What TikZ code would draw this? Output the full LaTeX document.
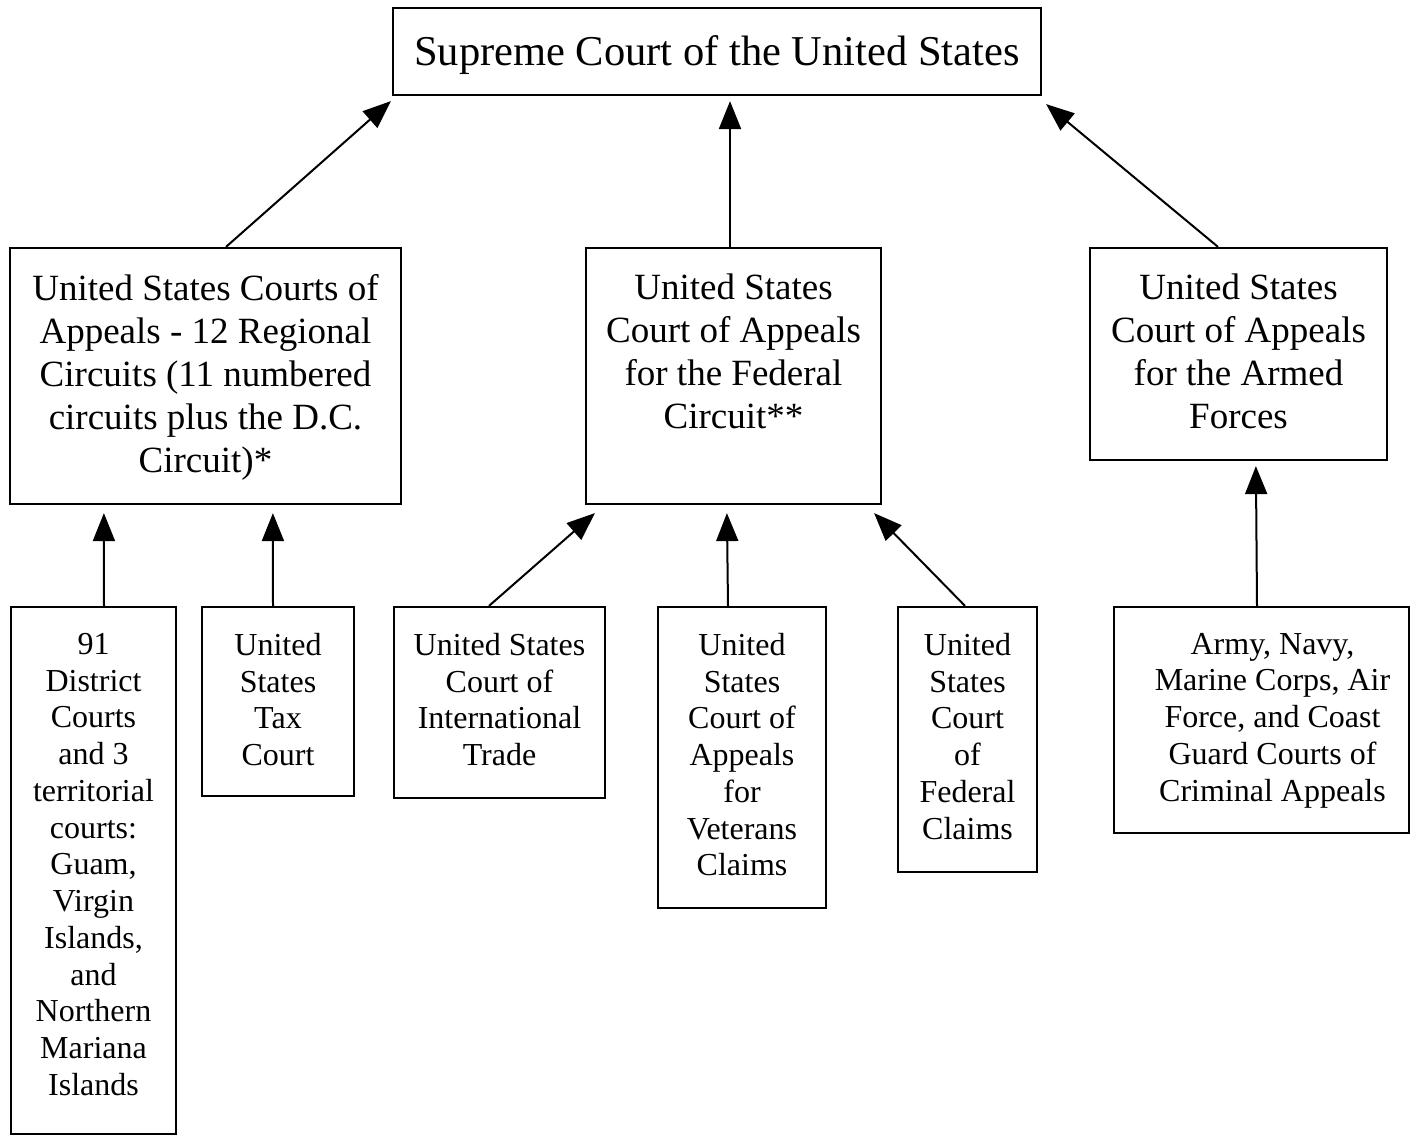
\documentclass[tikz,border=0pt]{standalone}
\usepackage{fontspec}
\setmainfont{Liberation Serif}
\usetikzlibrary{arrows.meta}
\begin{document}
\begin{tikzpicture}[x=1pt,y=-1pt,
  box/.style={draw, line width=2.2pt, inner sep=0pt},
  txt/.style={inner sep=0pt, align=center, anchor=north},
  bigf/.style={font=\fontsize{42.5}{48}\selectfont},
  midf/.style={font=\fontsize{37}{43}\selectfont},
  smallf/.style={font=\fontsize{32}{36.75}\selectfont},
  arr/.style={line width=2pt, -{Triangle[length=28pt,width=22pt]}}]
\useasboundingbox (0,0) rectangle (1419,1136);
% boxes
\node[box, minimum width=648pt, minimum height=87pt] (top) at (717,51.5) {};
\node[box, minimum width=391pt, minimum height=256pt] (lm) at (205.5,376) {};
\node[box, minimum width=295pt, minimum height=256pt] (cm) at (733.5,376) {};
\node[box, minimum width=297pt, minimum height=212pt] (rm) at (1238.5,354) {};
\node[box, minimum width=165pt, minimum height=527pt] (b1) at (93.5,870.5) {};
\node[box, minimum width=152pt, minimum height=189pt] (b2) at (278,701.5) {};
\node[box, minimum width=211pt, minimum height=191pt] (b3) at (499.5,702.5) {};
\node[box, minimum width=168pt, minimum height=301pt] (b4) at (742,757.5) {};
\node[box, minimum width=139pt, minimum height=265pt] (b5) at (967.5,739.5) {};
\node[box, minimum width=295pt, minimum height=226pt] (b6) at (1261.5,720) {};
% texts
\node[txt, bigf, anchor=center] (topt) at ([yshift=-4pt]top.center) {Supreme Court of the United States};
\node[txt, midf] (lmt) at ([yshift=-27pt]lm.north) {United States Courts of\\Appeals - 12 Regional\\Circuits (11 numbered\\circuits plus the D.C.\\Circuit)*};
\node[txt, midf] (cmt) at ([yshift=-27pt]cm.north) {United States\\Court of Appeals\\for the Federal\\Circuit**};
\node[txt, midf] (rmt) at ([yshift=-27pt]rm.north) {United States\\Court of Appeals\\for the Armed\\Forces};
\node[txt, smallf] (b1t) at ([yshift=-27pt]b1.north) {91\\District\\Courts\\and 3\\territorial\\courts:\\Guam,\\Virgin\\Islands,\\and\\Northern\\Mariana\\Islands};
\node[txt, smallf] (b2t) at ([yshift=-27pt]b2.north) {United\\States\\Tax\\Court};
\node[txt, smallf] (b3t) at ([yshift=-27pt]b3.north) {United States\\Court of\\International\\Trade};
\node[txt, smallf] (b4t) at ([yshift=-27pt]b4.north) {United\\States\\Court of\\Appeals\\for\\Veterans\\Claims};
\node[txt, smallf] (b5t) at ([yshift=-27pt]b5.north) {United\\States\\Court\\of\\Federal\\Claims};
\node[txt, smallf] (b6t) at ([xshift=11pt,yshift=-27pt]b6.north) {Army, Navy,\\Marine Corps, Air\\Force, and Coast\\Guard Courts of\\Criminal Appeals};
% arrows
\draw[arr] ([xshift=20.5pt]lm.north) -- ([xshift=-1pt,yshift=-5pt]top.south west);
\draw[arr] ([xshift=-3.5pt]cm.north) -- ([xshift=13pt,yshift=-5pt]top.south);
\draw[arr] ([xshift=-20.5pt]rm.north) -- ([xshift=4pt,yshift=-8pt]top.south east);
\draw[arr] ([xshift=10.5pt]b1.north) -- ([xshift=95pt,yshift=-8pt]lm.south west);
\draw[arr] ([xshift=-5pt]b2.north) -- ([xshift=264pt,yshift=-8pt]lm.south west);
\draw[arr] ([xshift=-10.5pt]b3.north) -- ([xshift=10pt,yshift=-8pt]cm.south west);
\draw[arr] ([xshift=-14pt]b4.north) -- ([xshift=142pt,yshift=-8pt]cm.south west);
\draw[arr] ([xshift=-2.5pt]b5.north) -- ([xshift=-8pt,yshift=-8pt]cm.south east);
\draw[arr] ([xshift=-4.5pt]b6.north) -- ([xshift=167pt,yshift=-5pt]rm.south west);
\end{tikzpicture}
\end{document}
